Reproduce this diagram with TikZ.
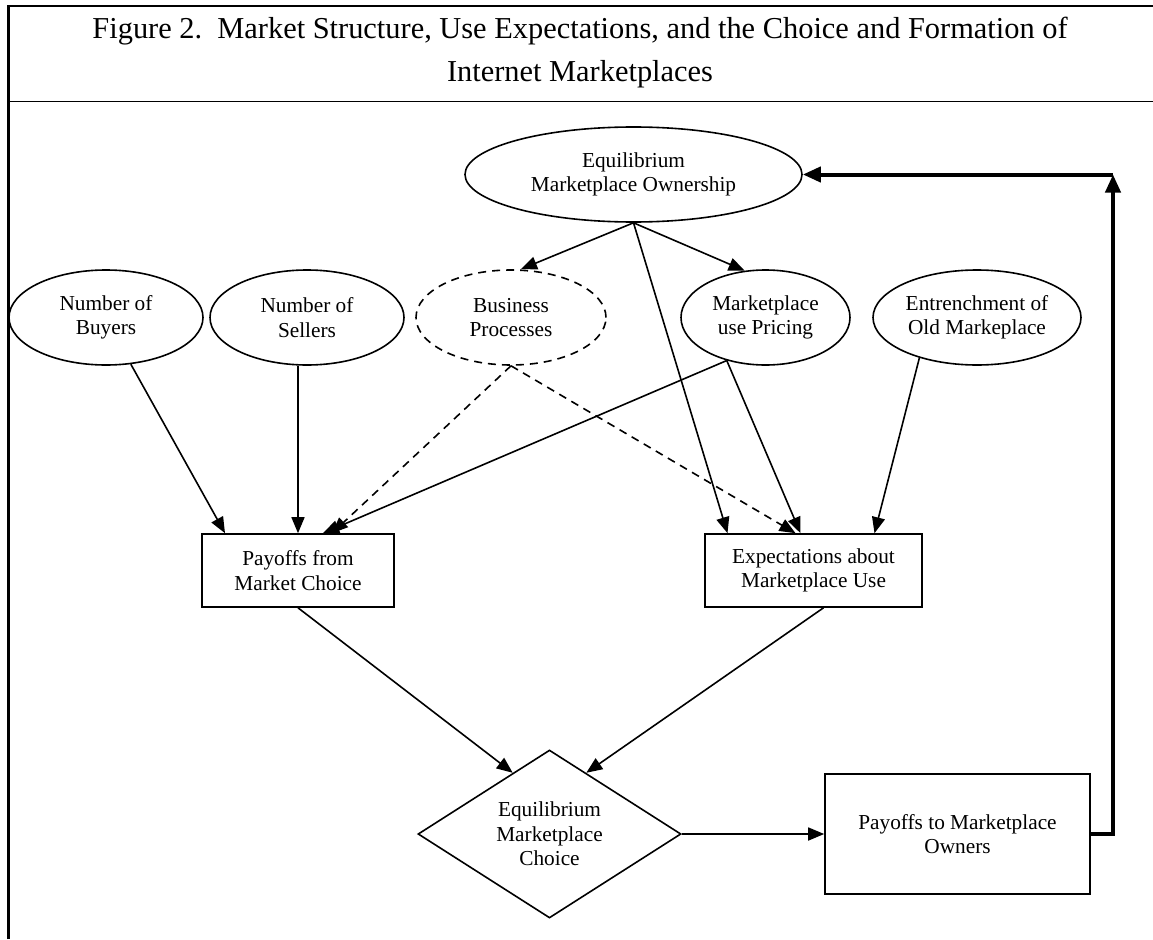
\documentclass[tikz,border=0pt]{standalone}
\usepackage{fontspec}
\setmainfont{Liberation Serif}
\usepackage{tikz}
\usetikzlibrary{shapes.geometric,arrows.meta}

\begin{document}
\begin{tikzpicture}[x = 1pt, y = -1pt,
    every node/.style = { align = center, inner sep = 0pt, font = \fontsize{21.3}{24.3}\selectfont },
    oval/.style = { draw, ellipse, line width = 1.6pt, minimum height = 95pt },
    dashoval/.style = { oval, dash pattern = on 8pt off 6pt },
    box/.style = { draw, rectangle, line width = 1.6pt },
    link/.style = { line width = 1.6pt, -{Triangle[length = 16pt, width = 13pt]} },
    dashlink/.style = { link, dash pattern = on 8pt off 6pt },
    feedback/.style = { line width = 4pt, -{Triangle[length = 18pt, width = 15pt]} }]
  \useasboundingbox (0, 0) rectangle (1153, 939);

  % frame and title
  \draw[line width = 2.7pt] (8.7, 939) -- (8.7, 6) -- (1153, 6);
  \draw[line width = 1.5pt] (8.7, 101.5) -- (1153, 101.5);
  \node[font = \fontsize{30.4}{43}\selectfont] (title) at (580, 53)
    { Figure 2.\ \ Market Structure, Use Expectations, and the Choice and Formation of \\ Internet Marketplaces };

  \node[oval, minimum width = 337pt] (own) at (633.5, 174.5) { Equilibrium \\ Marketplace Ownership };
  \node[oval, minimum width = 194pt] (buyers) at (106, 317.5) { Number of \\ Buyers };
  \node[oval, minimum width = 194pt] (sellers) at (307, 317.5) { Number of \\ Sellers };
  \node[dashoval, minimum width = 190pt] (bproc) at (511, 317.5) { Business \\ Processes };
  \node[oval, minimum width = 169pt] (pricing) at (765.5, 317.5) { Marketplace \\ use Pricing };
  \node[oval, minimum width = 208pt] (entrench) at (977, 317.5) { Entrenchment of \\ Old Markeplace };
  \node[box, minimum width = 192pt, minimum height = 73pt] (pfrom) at (298, 570.5) { Payoffs from \\ Market Choice };
  \node[box, minimum width = 217pt, minimum height = 73pt] (expect) at (813.5, 570.5) { Expectations about \\ Marketplace Use };
  \node[draw, diamond, line width = 1.6pt, shape aspect = 1.57, minimum width = 263pt, minimum height = 168pt]
    (choice) at (549.5, 834) { Equilibrium \\ Marketplace \\ Choice };
  \node[box, minimum width = 265pt, minimum height = 120pt] (owners) at (957.5, 834) { Payoffs to Marketplace \\ Owners };

  \draw[link] (own.south) -- ([xshift = 10pt]bproc.north);
  \draw[link] (own.south) -- (pricing.114);
  \draw[link] (own.south) -- ([xshift = -86pt]expect.north);
  \draw[link] (buyers.298) -- ([xshift = -73pt]pfrom.north);
  \draw[link] (pfrom.north |- sellers.south) -- (pfrom.north);
  \draw[dashlink] (bproc.south) -- ([xshift = 34pt]pfrom.north);
  \draw[dashlink] (bproc.south) -- ([xshift = -18pt]expect.north);
  \draw[link] (pricing.228) -- ([xshift = 25pt]pfrom.north);
  \draw[link] (pricing.228) -- ([xshift = -13pt]expect.north);
  \draw[link] (entrench.215) -- ([xshift = 61pt]expect.north);
  \draw[link] (pfrom.south) -- (choice.121);
  \draw[link] ([xshift = 10pt]expect.south) -- (choice.59);
  \draw[link] (choice.east) -- (owners.west);

  \coordinate (corner) at (1113, 174.5);
  \draw[feedback] (owners.east) -| (corner);
  \draw[feedback] (corner) -- (own.east);
\end{tikzpicture}
\end{document}
